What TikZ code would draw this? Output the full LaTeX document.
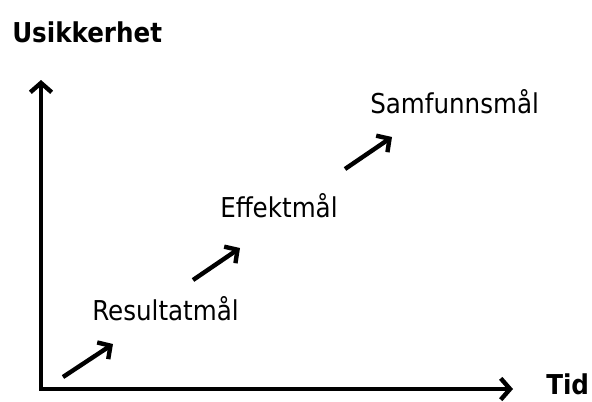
\documentclass[tikz,border=0pt]{standalone}
\usepackage{fontspec}
\setmainfont{DejaVu Sans Condensed}
\usetikzlibrary{arrows.meta}
\begin{document}
\begin{tikzpicture}[x=0.75pt, y=-0.75pt, font=\fontsize{20.5}{24}\selectfont,
  pil/.style={line width=3.3pt, -{Straight Barb[length=7pt, width=15pt]}},
  akse/.style={line width=3.3pt, {Straight Barb[length=7pt, width=16pt]}-{Straight Barb[length=7pt, width=16pt]}},
  etikett/.style={anchor=base west, inner sep=0pt}]
  \useasboundingbox (0,0) rectangle (592,401);
  % aksene
  \coordinate (ytopp) at (41,80);
  \coordinate (origo) at (41,389);
  \coordinate (xende) at (513,389);
  \draw[akse, line join=miter] (ytopp) -- (origo) -- (xende);
  \node[etikett, font=\fontsize{20.5}{24}\selectfont\bfseries] (usikkerhet) at (12,42) {Usikkerhet};
  \node[etikett, font=\fontsize{20.5}{24}\selectfont\bfseries] (tid) at (546,394) {Tid};
  % maalnivaa
  \node[etikett] (resultat) at (92,320) {Resultatmål};
  \node[etikett] (effekt) at (220,217) {Effektmål};
  \node[etikett] (samfunn) at (370,113) {Samfunnsmål};
  % piler mellom nivaaene
  \foreach \n/\a/\b in {1/{63,377}/{113,344}, 2/{193,280}/{240,248}, 3/{345,169}/{392,137}} {
    \coordinate (fra\n) at (\a);
    \coordinate (til\n) at (\b);
    \draw[pil] (fra\n) -- (til\n);
  }
\end{tikzpicture}
\end{document}
